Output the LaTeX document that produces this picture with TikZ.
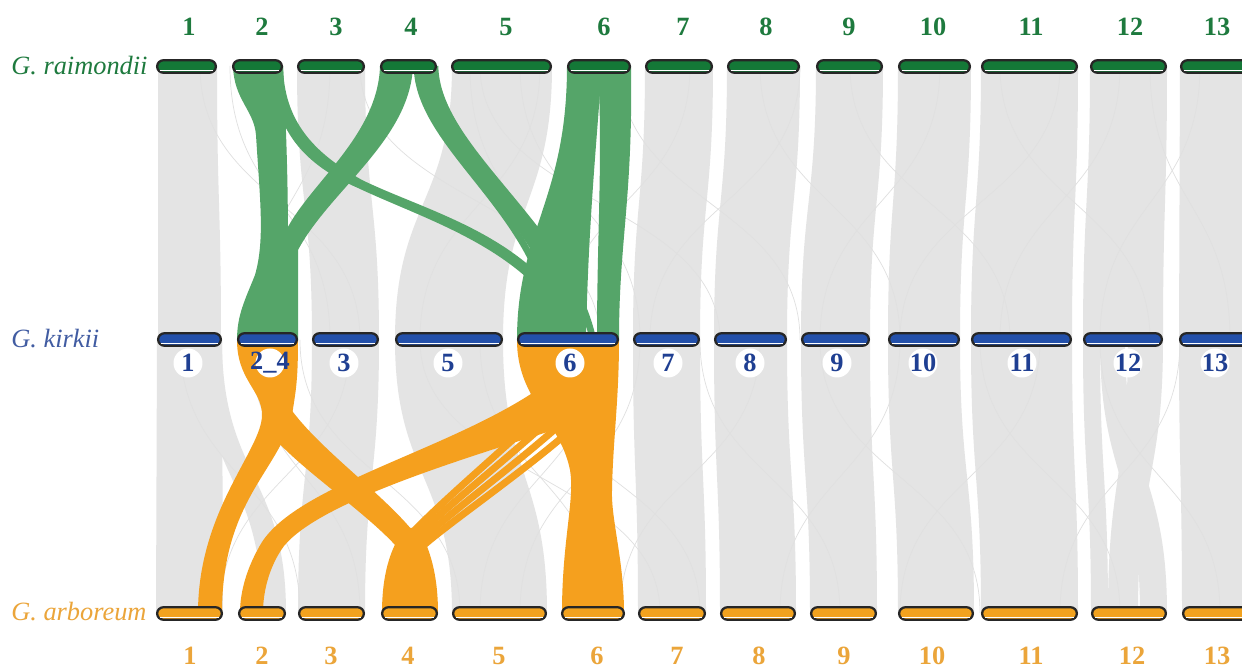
\documentclass[tikz,border=0pt]{standalone}
\usepackage{fontspec}
\setmainfont{Liberation Serif}
\usepackage{tikz}
\definecolor{rbar}{HTML}{147837}
\definecolor{kbar}{HTML}{2350AA}
\definecolor{abar}{HTML}{F2A21E}
\definecolor{rtext}{HTML}{1E7A3E}
\definecolor{ktext}{HTML}{1F3F92}
\definecolor{atext}{HTML}{EBA53A}
\definecolor{gribbon}{HTML}{55A569}
\definecolor{oribbon}{HTML}{F5A01E}
\definecolor{gris}{HTML}{E4E4E4}
\tikzstyle{chrom} = [rectangle, draw=black!85, line width=1.3pt, rounded corners=0.125cm, minimum height=0.25cm, inner sep=0pt]
\tikzstyle{stripe} = [white, line width=0.7pt]
\tikzstyle{num} = [font=\bfseries\fontsize{15}{15}\selectfont]
\tikzstyle{espece} = [font=\itshape\fontsize{15}{15}\selectfont, anchor=west, inner sep=0pt]
\tikzstyle{rond} = [circle, fill=white, minimum size=0.58cm, inner sep=0pt, text=ktext]
\tikzstyle{faint} = [black!12, line width=0.4pt]
\tikzstyle{gstrand} = [draw=gribbon, line width=3.8pt]
\tikzstyle{ostrand} = [draw=oribbon, line width=4pt]

% one chromosome bar: name, left, right, y, colour
\newcommand{\chrbar}[5]{%
  \node (#1) [chrom, fill=#5, minimum width={(#3-#2)*0.02cm-1.3pt}] at ({(#2+#3)/2},#4) {};
  \draw[stripe] ([xshift=2pt,yshift=2pt]#1.south west) -- ([xshift=-2pt,yshift=2pt]#1.south east);
}
% one synteny band: colour, y top, y bottom, top left, top right, bottom left, bottom right
\newcommand{\band}[7]{%
  \fill[#1] (#4,#2) .. controls (#4,{(#2+#3)/2}) and (#6,{(#2+#3)/2}) .. (#6,#3)
    -- (#7,#3) .. controls (#7,{(#2+#3)/2}) and (#5,{(#2+#3)/2}) .. (#5,#2) -- cycle;
}

\begin{document}
\begin{tikzpicture}[x=0.02cm, y=-0.02cm]
        \useasboundingbox (0,0) rectangle (1242,671);
        \clip (0,0) rectangle (1242,671);
        \fill[white] (0,0) rectangle (1242,671);

        % grey blocks
        \foreach \a/\b/\c/\d in {158/217/158/221, 297/365/312/379, 452/552/395/503, 645/713/633/700, 727/800/714/787, 816/883/801/870, 898/971/888/960, 981/1078/971/1072, 1090/1167/1083/1163, 1180/1260/1179/1260}
            {\band{gris}{66}{340}{\a}{\b}{\c}{\d}}
        \foreach \a/\b/\c/\d in {157/222/156/223, 200/222/262/286, 312/379/298/365, 395/503/452/547, 633/700/638/706, 714/787/720/796, 801/870/810/877, 888/960/898/974, 971/1072/981/1078, 1083/1100/1091/1108, 1100/1125/1140/1167, 1128/1163/1108/1138, 1179/1260/1182/1260}
            {\band{gris}{340}{613}{\a}{\b}{\c}{\d}}

        \foreach \a/\b in {200/360, 230/330, 330/250, 480/720, 520/640, 620/800, 690/560, 760/900, 800/650, 850/1010, 940/820, 1000/1150, 1060/900, 1120/1000, 1150/1230, 1200/1100, 360/600, 470/560, 540/420}
            \draw[faint] (\a,66) .. controls (\a,203) and (\b,203) .. (\b,340);
        \foreach \a/\b in {180/300, 250/360, 350/220, 420/660, 480/600, 640/520, 700/840, 760/620, 820/980, 900/780, 980/1120, 1040/900, 1100/1220, 1180/1060, 300/460, 520/700, 600/480}
            \draw[faint] (\a,340) .. controls (\a,477) and (\b,477) .. (\b,613);

        % green blocks
        \fill[gribbon] (233,66) .. controls (234,100) and (254,110) .. (256,135) .. controls (260,200) and (265,240) .. (255,275) .. controls (245,300) and (237,315) .. (237,340) -- (285,340) .. controls (290,250) and (288,160) .. (283,66) -- cycle;
        \fill[gribbon] (380,66) .. controls (378,140) and (300,190) .. (282,240) -- (272,340) -- (298,340) -- (298,250) .. controls (330,190) and (410,140) .. (413,66) -- cycle;
        \fill[gribbon] (272,66) .. controls (272,130) and (305,165) .. (358,188) .. controls (430,222) and (532,250) .. (574,340) -- (584,340) .. controls (542,238) and (432,214) .. (362,180) .. controls (312,152) and (284,120) .. (283,66) -- cycle;
        \foreach \i in {0,...,3}
            \draw[gstrand] ({417+6*\i},66) .. controls ({418+6*\i},150) and ({548+7*\i},{215+4*\i}) .. ({554+13*\i},340);
        \fill[gribbon] (567,66) .. controls (567,200) and (517,230) .. (517,340) -- (586,340) .. controls (588,230) and (596,150) .. (602,66) -- cycle;
        \fill[gribbon] (598,66) .. controls (603,160) and (597,230) .. (597,340) -- (619,340) .. controls (619,240) and (633,200) .. (631,66) -- cycle;

        % orange blocks
        \fill[oribbon] (237,340) .. controls (237,380) and (262,390) .. (262,415) .. controls (262,450) and (198,510) .. (198,613) -- (222,613) .. controls (222,500) and (280,470) .. (292,415) .. controls (296,390) and (298,380) .. (298,340) -- cycle;
        \fill[oribbon] (290,408) .. controls (320,450) and (385,495) .. (416,535) -- (396,546) .. controls (365,512) and (305,472) .. (276,440) -- cycle;
        \fill[oribbon] (382,613) .. controls (382,575) and (390,548) .. (405,528) -- (418,528) .. controls (430,548) and (438,575) .. (438,613) -- cycle;
        \foreach \i in {0,...,3}
            \draw[ostrand] ({584+2*\i},{370+14*\i}) .. controls ({540+2*\i},{420+12*\i}) and (455,{488+10*\i}) .. ({412+4*\i},{533+4*\i});
        \fill[oribbon] (540,388) .. controls (450,450) and (300,484) .. (262,542) .. controls (248,565) and (240,590) .. (240,613) -- (263,613) .. controls (263,590) and (270,565) .. (284,546) .. controls (320,502) and (460,460) .. (560,428) -- cycle;
        \fill[oribbon] (517,340) .. controls (517,400) and (560,420) .. (570,470) .. controls (575,500) and (562,540) .. (562,613) -- (624,613) .. controls (624,560) and (611,520) .. (612,490) .. controls (613,440) and (619,400) .. (619,340) -- cycle;

        % chromosomes
        \foreach \n/\a/\b in {1/156/217, 2/232/283, 3/297/365, 4/380/437, 5/451/552, 6/567/631, 7/645/713, 8/727/800, 9/816/883, 10/898/971, 11/981/1078, 12/1090/1167, 13/1180/1262}
            {\chrbar{r\n}{\a}{\b}{66.5}{rbar}}
        \foreach \n/\a/\b in {1/157/222, 24/237/298, 3/312/379, 5/395/503, 6/517/619, 7/633/700, 8/714/787, 9/801/870, 10/888/960, 11/971/1072, 12/1083/1163, 13/1179/1262}
            {\chrbar{k\n}{\a}{\b}{339.5}{kbar}}
        \foreach \n/\a/\b in {1/156/223, 2/238/286, 3/298/365, 4/381/438, 5/452/547, 6/561/625, 7/638/706, 8/720/796, 9/810/877, 10/898/974, 11/981/1078, 12/1091/1167, 13/1182/1262}
            {\chrbar{a\n}{\a}{\b}{613.5}{abar}}

        % labels
        \foreach \n/\x in {1/189, 2/262, 3/336, 4/411, 5/506, 6/604, 7/683, 8/766, 9/849, 10/933, 11/1031, 12/1130, 13/1217}
            \node (rn\n) [num, text=rtext] at (\x,27) {\n};
        \foreach \n/\t/\x in {1/1/188, 24/2\_4/270, 3/3/344, 5/5/448, 6/6/570, 7/7/668, 8/8/750, 9/9/837, 10/10/923, 11/11/1022, 12/12/1128, 13/13/1215}
            \node (kn\n) [rond, num] at (\x,363) {\makebox[0pt]{\t}};
        \foreach \n/\x in {1/190, 2/262, 3/331, 4/408, 5/499, 6/597, 7/677, 8/759, 9/844, 10/932, 11/1031, 12/1132, 13/1217}
            \node (an\n) [num, text=atext] at (\x,656) {\n};

        \node (esp1) [espece, text=rtext] at (11,66) {G. raimondii};
        \node (esp2) [espece, text=ktext!85] at (11,339) {G. kirkii};
        \node (esp3) [espece, text=atext] at (11,612) {G. arboreum};

    \end{tikzpicture}
\end{document}
